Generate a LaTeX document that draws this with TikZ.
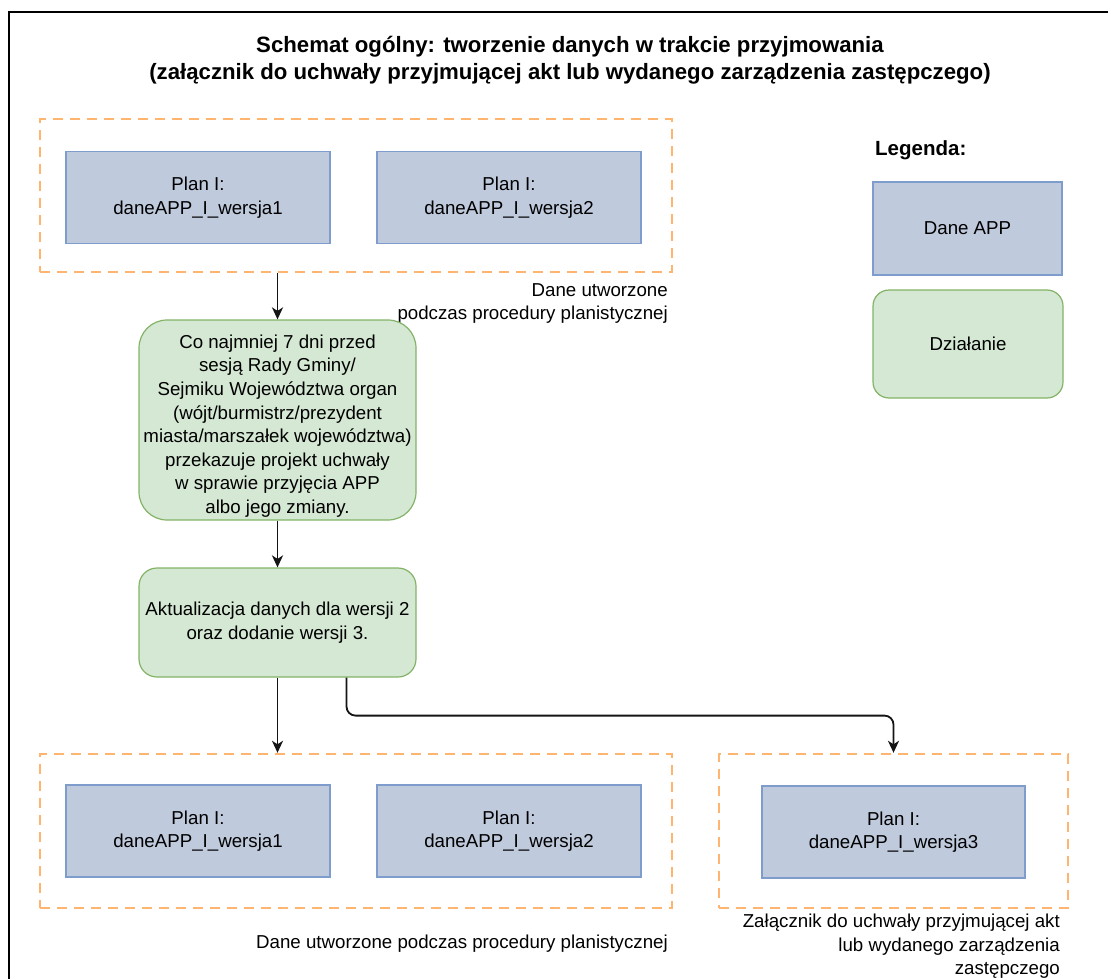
\documentclass[tikz,border=0pt]{standalone}
\usepackage{fontspec}
\setmainfont{Liberation Sans}
\usetikzlibrary{arrows.meta,positioning}

\definecolor{dataFill}{RGB}{192,202,221}
\definecolor{dataLine}{RGB}{126,156,204}
\definecolor{actFill}{RGB}{213,232,212}
\definecolor{actLine}{RGB}{130,179,102}
\definecolor{groupLine}{RGB}{255,181,112}
\definecolor{connLine}{RGB}{20,20,20}

\tikzset{
  txt/.style={font=\fontsize{18.7}{23.6}\selectfont, text=black, align=center, inner sep=0pt},
  databox/.style={txt, draw=dataLine, fill=dataFill, line width=1.2pt,
    minimum width=#1, minimum height=92pt},
  databox/.default=264pt,
  actbox/.style={txt, draw=actLine, fill=actFill, line width=1.2pt, rounded corners=#1},
  actbox/.default=16pt,
  groupbox/.style={draw=groupLine, line width=2.4pt, dash pattern=on 10pt off 7pt, inner sep=0pt},
  note/.style={txt, align=right},
  conn/.style={draw=connLine, line width=1.8pt, -{Stealth[length=12pt,width=11pt,inset=3.5pt]}},
}

\begin{document}
\begin{tikzpicture}[x=1pt,y=-1pt]
  \useasboundingbox (0,0) rectangle (1108,979);

  % frame (open on the right and bottom)
  \coordinate (frameBL) at (9,985);
  \coordinate (frameTL) at (9,12);
  \coordinate (frameTR) at (1115,12);
  \draw[line width=1.6pt, black] (frameBL) -- (frameTL) -- (frameTR);

  % title
  \node[txt, font=\bfseries\fontsize{22.2}{27.5}\selectfont, anchor=north] (title) at (570,36)
    {Schemat ogólny: tworzenie danych w trakcie przyjmowania\\
     (załącznik do uchwały przyjmującej akt lub wydanego zarządzenia zastępczego)};

  % upper group of data
  \node[groupbox, minimum width=632pt, minimum height=153pt] (grpA) at (356,195.5) {};
  \node[databox] (planA1) at (198,197.5) {Plan I:\\daneAPP\_I\_wersja1};
  \node[databox] (planA2) at (509,197.5) {Plan I:\\daneAPP\_I\_wersja2};
  \node[note, anchor=north east] (noteA) at (668,283)
    {Dane utworzone\\podczas procedury planistycznej};

  % actions
  \node[actbox=28pt, minimum width=277pt, minimum height=200pt] (act1) at (277.5,420) {};
  \node[txt] (act1text) at (277.5,426)
    {Co najmniej 7 dni przed\\
     sesją Rady Gminy/\\
     Sejmiku Województwa organ\\
     (wójt/burmistrz/prezydent\\
     miasta/marszałek województwa)\\
     przekazuje projekt uchwały\\
     w sprawie przyjęcia APP\\
     albo jego zmiany.};
  \node[actbox=18pt, minimum width=277pt, minimum height=109pt] (act2) at (277.5,622.5)
    {Aktualizacja danych dla wersji 2\\oraz dodanie wersji 3.};

  % lower groups of data
  \node[groupbox, minimum width=632pt, minimum height=154pt] (grpB) at (356,831) {};
  \node[databox] (planB1) at (198,831) {Plan I:\\daneAPP\_I\_wersja1};
  \node[databox] (planB2) at (509,831) {Plan I:\\daneAPP\_I\_wersja2};
  \node[note, anchor=north east] (noteB) at (668,935)
    {Dane utworzone podczas procedury planistycznej};

  \node[groupbox, minimum width=349pt, minimum height=154pt] (grpC) at (893.5,831) {};
  \node[databox=263pt] (planC) at (893.5,832) {Plan I:\\daneAPP\_I\_wersja3};
  \node[note, anchor=north east] (noteC) at (1060,914)
    {Załącznik do uchwały przyjmującej akt\\lub wydanego zarządzenia\\zastępczego};

  % legend
  \node[txt, font=\bfseries\fontsize{20.5}{27}\selectfont, anchor=base west] (legTitle) at (875,155) {Legenda:};
  \node[databox=189pt, minimum height=93pt] (legData) at (967.5,228.5) {Dane APP};
  \node[actbox=16pt, minimum width=190pt, minimum height=108pt] (legAct) at (968,344) {Działanie};

  % connectors
  \draw[conn] (grpA.south -| act1.north) -- (act1.north);
  \draw[conn] (act1.south) -- (act2.north);
  \draw[conn] (act2.south) -- (grpB.north -| act2.south);
  \draw[conn, rounded corners=9pt] ([xshift=69pt]act2.south) -- ++(0,38) -| (grpC.north);
\end{tikzpicture}
\end{document}
